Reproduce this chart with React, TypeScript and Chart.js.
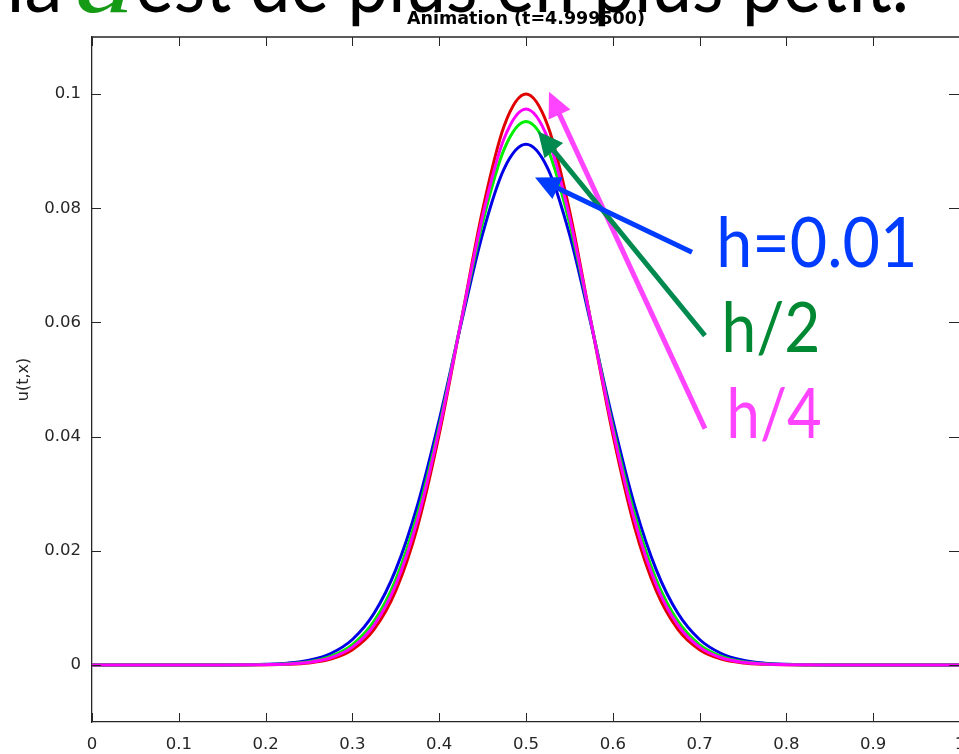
import React, { useEffect, useRef } from 'react';
import { Chart, registerables } from 'chart.js';

Chart.register(...registerables);

// ---------------- data ----------------
const X_VALUES = [0, 0.025, 0.05, 0.075, 0.1, 0.125, 0.15, 0.175, 0.2, 0.225, 0.25, 0.275, 0.3, 0.325, 0.35, 0.375, 0.4, 0.425, 0.45, 0.475, 0.5, 0.525, 0.55, 0.575, 0.6, 0.625, 0.65, 0.675, 0.7, 0.725, 0.75, 0.775, 0.8, 0.825, 0.85, 0.875, 0.9, 0.925, 0.95, 0.975, 1];

const RED = [0, 0, 0, 0, 0, 0, 0, 0, 0.00003, 0.000105, 0.000345, 0.00101, 0.00266, 0.00622, 0.013, 0.0242, 0.0404, 0.06, 0.0797, 0.0945, 0.1, 0.0945, 0.0797, 0.06, 0.0404, 0.0242, 0.013, 0.00622, 0.00266, 0.00101, 0.000345, 0.000105, 0.00003, 0, 0, 0, 0, 0, 0, 0, 0];

const MAGENTA = [0, 0, 0, 0, 0, 0, 0, 0.00001, 0.000042, 0.000145, 0.00045, 0.00125, 0.00312, 0.00698, 0.01405, 0.0254, 0.0412, 0.06, 0.0786, 0.0923, 0.0974, 0.0923, 0.0786, 0.06, 0.0412, 0.0254, 0.01405, 0.00698, 0.00312, 0.00125, 0.00045, 0.000145, 0.000042, 0.00001, 0, 0, 0, 0, 0, 0, 0];

const GREEN = [0, 0, 0, 0, 0, 0, 0, 0.000016, 0.000058, 0.00019, 0.00056, 0.00149, 0.00356, 0.00768, 0.01497, 0.0264, 0.0418, 0.06, 0.0775, 0.0904, 0.0952, 0.0904, 0.0775, 0.06, 0.0418, 0.0264, 0.01497, 0.00768, 0.00356, 0.00149, 0.00056, 0.00019, 0.000058, 0.000016, 0, 0, 0, 0, 0, 0, 0];

const BLUE = [0, 0, 0, 0, 0, 0, 0, 0.00003, 0.000102, 0.000302, 0.000815, 0.002, 0.00445, 0.00904, 0.01669, 0.028, 0.0429, 0.0596, 0.0755, 0.087, 0.0912, 0.087, 0.0755, 0.0596, 0.0429, 0.028, 0.01669, 0.00904, 0.00445, 0.002, 0.000815, 0.000302, 0.000102, 0.00003, 0, 0, 0, 0, 0, 0, 0];

const X_TICKS = [0, 0.1, 0.2, 0.3, 0.4, 0.5, 0.6, 0.7, 0.8, 0.9, 1];
const X_TICK_LABELS = ['0', '0.1', '0.2', '0.3', '0.4', '0.5', '0.6', '0.7', '0.8', '0.9', '1'];
const Y_TICKS = [0, 0.02, 0.04, 0.06, 0.08, 0.1];
const Y_TICK_LABELS = ['0', '0.02', '0.04', '0.06', '0.08', '0.1'];

const TITLE = 'Animation (t=4.999500)';
const Y_TITLE = 'u(t,x)';
const TOP_TEXT = ['la', 'a', 'est de plus en plus petit.'];
const ARROW_LABELS = ['h/4', 'h/2', 'h=0.01'];

// ---------------- styles / layout ----------------
const AXIS = '#262626';
const TICK_LEN = 9;
const CANVAS_W = 970;
const CANVAS_H = 754;

// annotation anchors, in data coordinates
const ANNOT = [
  { tail: [0.7062, 0.0414], tip: [0.5265, 0.1004], arrow: '#FF44FF', text: '#FF44FF', box: [0.735, 0.8387, 0.04895, 0.03983] },
  { tail: [0.7062, 0.0577], tip: [0.5138, 0.0935], arrow: '#008A50', text: '#008832', box: [0.7293, 0.8353, 0.06386, 0.05474] },
  { tail: [0.6912, 0.0723], tip: [0.5104, 0.0854], arrow: '#003CFF', text: '#003CFF', box: [0.7235, 0.9459, 0.07877, 0.06965] },
];

function drawFitted(ctx: CanvasRenderingContext2D, text: string, font: string, color: string, left: number, right: number, baseline: number) {
  ctx.save();
  ctx.font = font;
  ctx.fillStyle = color;
  ctx.textAlign = 'left';
  ctx.textBaseline = 'alphabetic';
  const m = ctx.measureText(text);
  const inkL = m.actualBoundingBoxLeft;
  const inkW = m.actualBoundingBoxLeft + m.actualBoundingBoxRight;
  const sx = (right - left) / inkW;
  ctx.translate(left, baseline);
  ctx.scale(sx, 1);
  ctx.fillText(text, inkL, 0);
  ctx.restore();
}

function drawLabel(ctx: CanvasRenderingContext2D, text: string, family: string, color: string, left: number, right: number, top: number, baseline: number) {
  ctx.save();
  ctx.font = `100px ${family}`;
  const asc = ctx.measureText(text).actualBoundingBoxAscent;
  ctx.restore();
  const size = (100 * (baseline - top)) / asc;
  drawFitted(ctx, text, `${size}px ${family}`, color, left, right, baseline);
}

function drawArrow(ctx: CanvasRenderingContext2D, x0: number, y0: number, x1: number, y1: number, color: string) {
  const headLen = 25;
  const headHalf = 12;
  const dx = x1 - x0;
  const dy = y1 - y0;
  const len = Math.hypot(dx, dy);
  const ux = dx / len;
  const uy = dy / len;
  const bx = x1 - ux * headLen;
  const by = y1 - uy * headLen;
  ctx.save();
  ctx.strokeStyle = color;
  ctx.lineWidth = 5;
  ctx.lineCap = 'butt';
  ctx.beginPath();
  ctx.moveTo(x0, y0);
  ctx.lineTo(bx + ux * 2, by + uy * 2);
  ctx.stroke();
  ctx.fillStyle = color;
  ctx.beginPath();
  ctx.moveTo(x1, y1);
  ctx.lineTo(bx - uy * headHalf, by + ux * headHalf);
  ctx.lineTo(bx + uy * headHalf, by - ux * headHalf);
  ctx.closePath();
  ctx.fill();
  ctx.restore();
}

const overlayPlugin = {
  id: 'overlay',
  afterDatasetsDraw(chart: any) {
    const { ctx, chartArea: a, scales } = chart;
    const x = scales.x;
    const y = scales.y;
    ctx.save();
    ctx.strokeStyle = AXIS;
    ctx.lineWidth = 1.3;
    ctx.beginPath();
    ctx.moveTo(a.left, a.top);
    ctx.lineTo(a.right, a.top);
    ctx.lineTo(a.right, a.bottom);
    ctx.stroke();
    ctx.lineWidth = 1;
    ctx.beginPath();
    x.ticks.forEach((t: any) => {
      const px = Math.round(x.getPixelForValue(t.value)) + 0.5;
      ctx.moveTo(px, a.bottom);
      ctx.lineTo(px, a.bottom - TICK_LEN);
      ctx.moveTo(px, a.top);
      ctx.lineTo(px, a.top + TICK_LEN);
    });
    y.ticks.forEach((t: any) => {
      const py = Math.round(y.getPixelForValue(t.value)) + 0.5;
      ctx.moveTo(a.left, py);
      ctx.lineTo(a.left + TICK_LEN, py);
      ctx.moveTo(a.right, py);
      ctx.lineTo(a.right - TICK_LEN - 2, py);
    });
    ctx.stroke();
    ctx.restore();
  },
  afterDraw(chart: any) {
    const { ctx, scales } = chart;
    const x = scales.x;
    const y = scales.y;
    // arrows
    ANNOT.forEach((an) => {
      drawArrow(ctx, x.getPixelForValue(an.tail[0]), y.getPixelForValue(an.tail[1]), x.getPixelForValue(an.tip[0]), y.getPixelForValue(an.tip[1]), an.arrow);
    });
    ANNOT.forEach((an, i) => {
      drawLabel(ctx, ARROW_LABELS[i], 'Lato', an.text, x.getPixelForValue(an.box[0]), x.getPixelForValue(an.box[1]), y.getPixelForValue(an.box[2]), y.getPixelForValue(an.box[3]));
    });
    // slide text cut off at the top
    drawFitted(ctx, TOP_TEXT[0], '82px Lato', '#000', 12, 58, 12);
    drawFitted(ctx, TOP_TEXT[1], 'italic 82px "Liberation Serif"', '#159A15', 78, 130, 12);
    drawFitted(ctx, TOP_TEXT[2], '82px Lato', '#000', 138, 905, 12);
  },
};

function pts(values: number[]) {
  return X_VALUES.map((xv, i) => ({ x: xv, y: values[i] }));
}

export default function App() {
  const ref = useRef<HTMLCanvasElement | null>(null);

  useEffect(() => {
    if (!ref.current) return;
    const tickFont = { family: 'DejaVu Sans', size: 16.5 };
    const chart = new Chart(ref.current, {
      type: 'line',
      data: {
        datasets: [
          { label: 'h/4', data: pts(MAGENTA), borderColor: '#FF00FF' },
          { label: 'h/2', data: pts(GREEN), borderColor: '#00EE00' },
          { label: 'h=0.01', data: pts(BLUE), borderColor: '#0000E6' },
          { label: 'ref', data: pts(RED), borderColor: '#E00000' },
        ].map((d) => ({ ...d, borderWidth: 3, pointRadius: 0, fill: false, cubicInterpolationMode: 'monotone' as const })),
      },
      options: {
        animation: false,
        responsive: false,
        devicePixelRatio: 1,
        layout: { padding: { left: 0, right: 10, top: 0, bottom: 0 } },
        plugins: {
          legend: { display: false },
          tooltip: { enabled: false },
          title: {
            display: true,
            text: TITLE,
            fullSize: false,
            color: '#000',
            font: { family: 'DejaVu Sans', size: 17.5, weight: 'bold' },
            padding: { top: 9, bottom: 7 },
          },
        },
        scales: {
          x: {
            type: 'linear',
            min: 0,
            max: 1,
            grid: { display: false, drawTicks: false },
            border: { display: true, color: AXIS, width: 1.3 },
            afterBuildTicks: (s: any) => {
              s.ticks = X_TICKS.map((v) => ({ value: v }));
            },
            afterFit: (s: any) => {
              s.height = 32;
              s.paddingLeft = 0;
              s.paddingRight = 0;
            },
            ticks: {
              callback: (_v: any, i: number) => X_TICK_LABELS[i],
              font: tickFont,
              color: AXIS,
              padding: 13,
              maxRotation: 0,
              autoSkip: false,
            },
          },
          y: {
            type: 'linear',
            min: -0.01,
            max: 0.11,
            grid: { display: false, drawTicks: false },
            border: { display: true, color: AXIS, width: 1.3 },
            afterBuildTicks: (s: any) => {
              s.ticks = Y_TICKS.map((v) => ({ value: v }));
            },
            afterFit: (s: any) => {
              s.width = 92;
              s.paddingTop = 0;
              s.paddingBottom = 0;
            },
            ticks: {
              callback: (_v: any, i: number) => Y_TICK_LABELS[i],
              font: tickFont,
              color: AXIS,
              padding: 11,
              autoSkip: false,
            },
            title: {
              display: true,
              text: Y_TITLE,
              color: AXIS,
              font: { family: 'DejaVu Sans', size: 16 },
              padding: { top: 14, bottom: 0 },
            },
          },
        },
      },
      plugins: [overlayPlugin],
    } as any);
    return () => chart.destroy();
  }, []);

  return (
    <div style={{ position: 'fixed', left: 0, top: 0, width: 959, height: 754, overflow: 'hidden', background: '#fff' }}>
      <canvas ref={ref} width={CANVAS_W} height={CANVAS_H} style={{ display: 'block' }} />
    </div>
  );
}
